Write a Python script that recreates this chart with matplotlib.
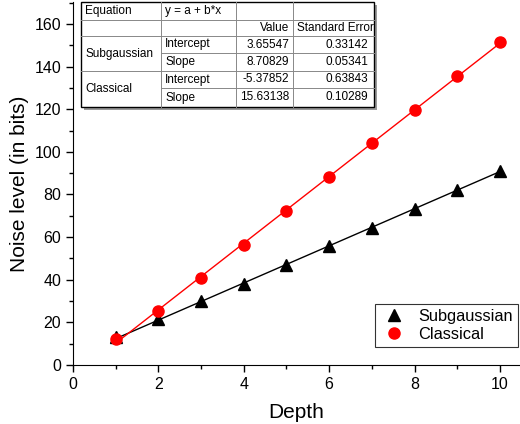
import numpy as np
import matplotlib
matplotlib.use("Agg")
import matplotlib.pyplot as plt
from matplotlib.ticker import MultipleLocator

plt.rcParams['font.family'] = ['Liberation Sans', 'DejaVu Sans']

# data
depth = [1, 2, 3, 4, 5, 6, 7, 8, 9, 10]
subgaussian = [13.0, 21.5, 29.8, 38.2, 47.0, 55.6, 64.5, 73.2, 82.0, 91.0]
classical = [12.0, 25.2, 40.6, 56.5, 72.2, 88.2, 104.0, 119.8, 135.5, 151.3]

# linear fit results shown in the table
fit_names = ["Subgaussian", "Classical"]
fit_intercept = [3.65547, -5.37852]
fit_slope = [8.70829, 15.63138]
err_intercept = [0.33142, 0.63843]
err_slope = [0.05341, 0.10289]

W, H = 520, 424
fig = plt.figure(figsize=(W / 100, H / 100), dpi=100)
ax = fig.add_axes([73 / W, 1 - 365 / H, (W - 73) / W, 363 / H])

x = np.array(depth)
ax.plot(x, fit_intercept[0] + fit_slope[0] * x, color='black', lw=1.0, zorder=2)
ax.plot(x, fit_intercept[1] + fit_slope[1] * x, color='red', lw=1.0, zorder=2)
ax.plot(depth, subgaussian, '^', color='black', ms=8.5, ls='none',
        label='Subgaussian', zorder=3)
ax.plot(depth, classical, 'o', color='red', ms=8, ls='none',
        label='Classical', zorder=4)

ax.set_xlim(0, 10.47)
ax.set_ylim(0, 170.3)
ax.xaxis.set_major_locator(MultipleLocator(2))
ax.xaxis.set_minor_locator(MultipleLocator(1))
ax.yaxis.set_major_locator(MultipleLocator(20))
ax.yaxis.set_minor_locator(MultipleLocator(10))
ax.tick_params(which='major', direction='out', length=5, width=1, labelsize=11.5)
ax.tick_params(which='minor', direction='out', length=3, width=1)
ax.spines['top'].set_visible(False)
ax.spines['right'].set_visible(False)
ax.set_xlabel('Depth', fontsize=15, labelpad=8)
ax.set_ylabel('Noise level (in bits)', fontsize=15, labelpad=4)

leg = ax.legend(loc='lower left', bbox_to_anchor=(0.676, 0.05), borderaxespad=0,
                fontsize=11.8, frameon=True, fancybox=False, edgecolor='black',
                handletextpad=0.6, borderpad=0.3, labelspacing=0.2,
                handlelength=1.75)
leg.get_frame().set_linewidth(0.8)

# fit table drawn in pixel coordinates
tb = fig.add_axes([0, 0, 1, 1], zorder=10)
tb.set_xlim(0, W)
tb.set_ylim(H, 0)
tb.axis('off')

left, right = 81, 374
cols = [81, 161, 236, 293, 374]
rows = [2, 20, 36, 53, 71, 88, 107]
# shadow
tb.add_patch(plt.Rectangle((left + 3, rows[0] + 3), right - left, rows[-1] - rows[0],
                           facecolor='#9a9a9a', edgecolor='none'))
frame = plt.Rectangle((left, rows[0]), right - left, rows[-1] - rows[0],
                      facecolor='white', edgecolor='black', lw=1.0)
tb.add_patch(frame)
lc = '#888888'
for c in cols[1:-1]:
    tb.plot([c, c], [rows[0], rows[-1]], color=lc, lw=0.7)
for i, r in enumerate(rows[1:-1], start=1):
    x0 = cols[1] if i in (3, 5) else left
    tb.plot([x0, right], [r, r], color=lc, lw=0.7)

fs = 8.5
def cell(txt, xp, r0, r1, ha='left'):
    t = tb.text(xp, (r0 + r1) / 2, txt, ha=ha, va='center', fontsize=fs)
    t.set_clip_path(frame)

cell('Equation', cols[0] + 4, rows[0], rows[1])
cell('y = a + b*x', cols[1] + 4, rows[0], rows[1])
cell('Value', cols[3] - 4, rows[1], rows[2], ha='right')
cell('Standard Error', cols[3] + 4, rows[1], rows[2])
for k in range(2):
    ra, rb, rc = rows[2 + 2 * k], rows[3 + 2 * k], rows[4 + 2 * k]
    cell(fit_names[k], cols[0] + 4, ra, rc)
    cell('Intercept', cols[1] + 4, ra, rb)
    cell('Slope', cols[1] + 4, rb, rc)
    cell(f'{fit_intercept[k]:.5f}', cols[3] - 4, ra, rb, ha='right')
    cell(f'{fit_slope[k]:.5f}', cols[3] - 4, rb, rc, ha='right')
    cell(f'{err_intercept[k]:.5f}', cols[4] - 6, ra, rb, ha='right')
    cell(f'{err_slope[k]:.5f}', cols[4] - 6, rb, rc, ha='right')

fig.savefig('out.png', dpi=100)
